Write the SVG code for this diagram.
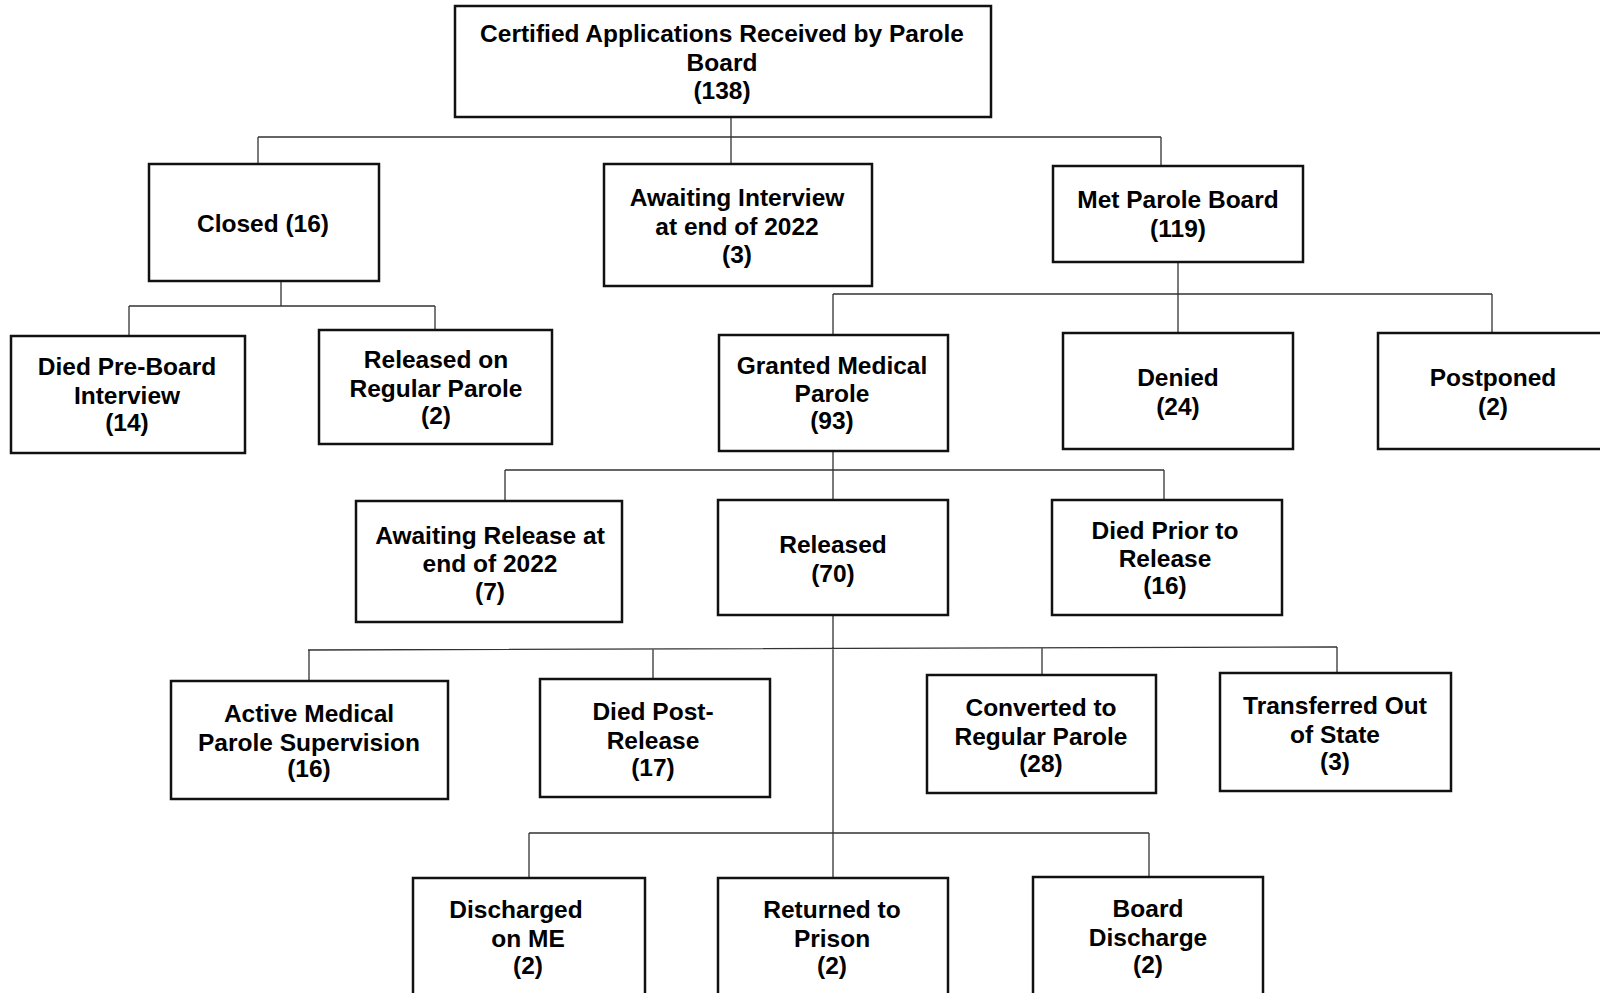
<svg xmlns="http://www.w3.org/2000/svg" width="1600" height="993" viewBox="0 0 1600 993">
<style>
.box{fill:#fff;stroke:#111;stroke-width:2.5}
.t{font-family:"Liberation Sans",Arial,sans-serif;font-weight:bold;font-size:24.5px;fill:#000;text-anchor:middle}
.c{fill:none;stroke:#333;stroke-width:1.3}
</style>
<rect width="1600" height="993" fill="#fff"/>
<g id="connectors">
<path class="c" d="M731 117V137M258 137H1161M258 137V164M731 137V164M1161 137V166"/>
<path class="c" d="M281 276V306M129 306H435M129 306V336M435 306V330"/>
<path class="c" d="M1178 262V333M833 294H1492M833 294V335M1492 294V333"/>
<path class="c" d="M833 451V500M505 470H1164M505 470V501M1164 470V500"/>
<path class="c" d="M833 615V878M308 650L1337 647M309 650V681M653 649V679M1042 648V675M1337 647V673"/>
<path class="c" d="M529 833H1149M529 833V878M1149 833V877"/>
</g>
<g id="n-top"><rect class="box" x="455" y="6" width="536" height="111"/>
<text class="t" x="722" y="42">Certified Applications Received by Parole</text>
<text class="t" x="722" y="71">Board</text>
<text class="t" x="722" y="99">(138)</text></g>
<g id="n-closed"><rect class="box" x="149" y="164" width="230" height="117"/>
<text class="t" x="263" y="232">Closed (16)</text></g>
<g id="n-awaiting-interview"><rect class="box" x="604" y="164" width="268" height="122"/>
<text class="t" x="737" y="206">Awaiting Interview</text>
<text class="t" x="737" y="235">at end of 2022</text>
<text class="t" x="737" y="263">(3)</text></g>
<g id="n-met"><rect class="box" x="1053" y="166" width="250" height="96"/>
<text class="t" x="1178" y="208">Met Parole Board</text>
<text class="t" x="1178" y="237">(119)</text></g>
<g id="n-died-pre"><rect class="box" x="11" y="336" width="234" height="117"/>
<text class="t" x="127" y="375">Died Pre-Board</text>
<text class="t" x="127" y="404">Interview</text>
<text class="t" x="127" y="431">(14)</text></g>
<g id="n-released-regular"><rect class="box" x="319" y="330" width="233" height="114"/>
<text class="t" x="436" y="368">Released on</text>
<text class="t" x="436" y="397">Regular Parole</text>
<text class="t" x="436" y="424">(2)</text></g>
<g id="n-granted"><rect class="box" x="719" y="335" width="229" height="116"/>
<text class="t" x="832" y="374">Granted Medical</text>
<text class="t" x="832" y="402">Parole</text>
<text class="t" x="832" y="429">(93)</text></g>
<g id="n-denied"><rect class="box" x="1063" y="333" width="230" height="116"/>
<text class="t" x="1178" y="386">Denied</text>
<text class="t" x="1178" y="415">(24)</text></g>
<g id="n-postponed"><rect class="box" x="1378" y="333" width="232" height="116"/>
<text class="t" x="1493" y="386">Postponed</text>
<text class="t" x="1493" y="415">(2)</text></g>
<g id="n-awaiting-release"><rect class="box" x="356" y="501" width="266" height="121"/>
<text class="t" x="490" y="544">Awaiting Release at</text>
<text class="t" x="490" y="572">end of 2022</text>
<text class="t" x="490" y="600">(7)</text></g>
<g id="n-released"><rect class="box" x="718" y="500" width="230" height="115"/>
<text class="t" x="833" y="553">Released</text>
<text class="t" x="833" y="582">(70)</text></g>
<g id="n-died-prior"><rect class="box" x="1052" y="500" width="230" height="115"/>
<text class="t" x="1165" y="539">Died Prior to</text>
<text class="t" x="1165" y="567">Release</text>
<text class="t" x="1165" y="594">(16)</text></g>
<g id="n-active"><rect class="box" x="171" y="681" width="277" height="118"/>
<text class="t" x="309" y="722">Active Medical</text>
<text class="t" x="309" y="751">Parole Supervision</text>
<text class="t" x="309" y="777">(16)</text></g>
<g id="n-died-post"><rect class="box" x="540" y="679" width="230" height="118"/>
<text class="t" x="653" y="720">Died Post-</text>
<text class="t" x="653" y="749">Release</text>
<text class="t" x="653" y="776">(17)</text></g>
<g id="n-converted"><rect class="box" x="927" y="675" width="229" height="118"/>
<text class="t" x="1041" y="716">Converted to</text>
<text class="t" x="1041" y="745">Regular Parole</text>
<text class="t" x="1041" y="772">(28)</text></g>
<g id="n-transferred"><rect class="box" x="1220" y="673" width="231" height="118"/>
<text class="t" x="1335" y="714">Transferred Out</text>
<text class="t" x="1335" y="743">of State</text>
<text class="t" x="1335" y="770">(3)</text></g>
<g id="n-discharged"><rect class="box" x="413" y="878" width="232" height="130"/>
<text class="t" x="516" y="918">Discharged</text>
<text class="t" x="528" y="947">on ME</text>
<text class="t" x="528" y="974">(2)</text></g>
<g id="n-returned"><rect class="box" x="718" y="878" width="230" height="130"/>
<text class="t" x="832" y="918">Returned to</text>
<text class="t" x="832" y="947">Prison</text>
<text class="t" x="832" y="974">(2)</text></g>
<g id="n-board-discharge"><rect class="box" x="1033" y="877" width="230" height="131"/>
<text class="t" x="1148" y="917">Board</text>
<text class="t" x="1148" y="946">Discharge</text>
<text class="t" x="1148" y="973">(2)</text></g>
</svg>
